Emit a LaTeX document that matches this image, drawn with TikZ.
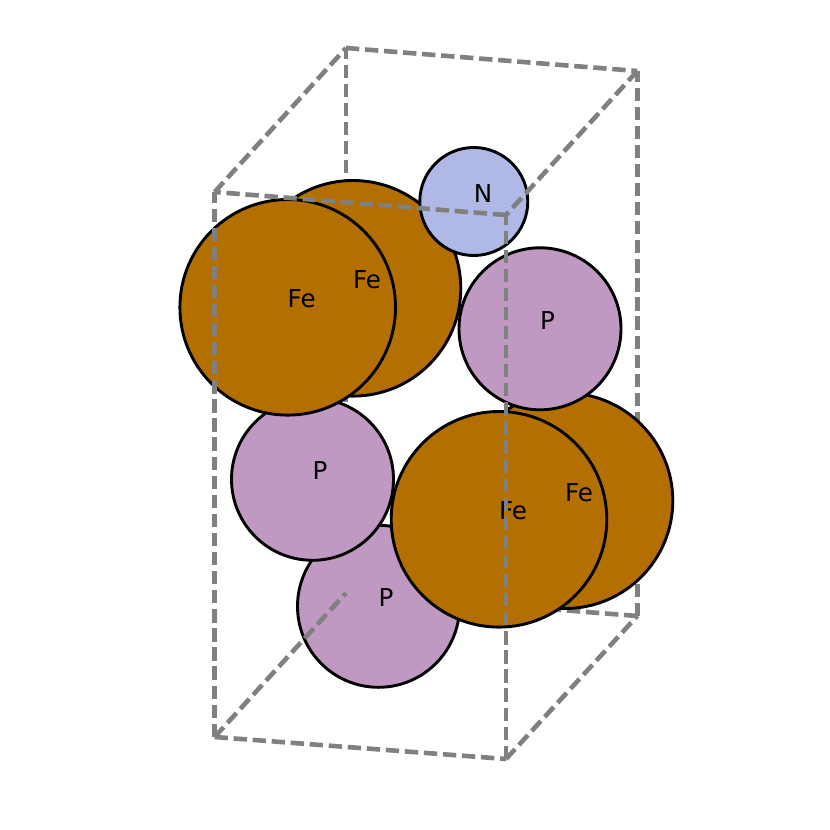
\documentclass[tikz,border=0pt]{standalone}
\usepackage{fontspec}
\setmainfont{DejaVu Sans}
\tikzset{
  atom/.style={circle,draw=black,line width=2.9pt,inner sep=0pt,outer sep=0pt},
  fe/.style={atom,fill=feC,minimum size=215.6pt},
  pp/.style={atom,fill=pC,minimum size=162pt},
  nn/.style={atom,fill=nC,minimum size=108pt},
  lab/.style={anchor=base west,inner sep=0pt,outer sep=0pt,yshift=-0.5pt,font=\fontsize{24.6}{24.6}\selectfont},
  edge/.style={draw=edgeC,line width=4.6pt,dash pattern=on 13.32pt off 5.76pt,line cap=butt}
}
\definecolor{feC}{RGB}{179,112,0}
\definecolor{pC}{RGB}{191,153,194}
\definecolor{nC}{RGB}{176,185,230}
\definecolor{edgeC}{RGB}{128,128,128}
\begin{document}
\begin{tikzpicture}[x=1pt,y=-1pt]
\useasboundingbox (0,0) rectangle (830,830);
\coordinate (A) at (214.6,192);
\coordinate (B) at (506,215);
\coordinate (C) at (637.3,71);
\coordinate (D) at (346,48);
\coordinate (E) at (214.6,737);
\coordinate (F) at (506,759);
\coordinate (G) at (637.3,616);
\coordinate (H) at (346,593);
% hidden edges
\draw[edge] (H) -- (D);
\draw[edge] (G) -- (C);
\draw[edge] (G) -- (H);
% atoms, back to front
\node[pp] (p3) at (378.5,606.3) {};
\node[fe] (fe4) at (565,500.7) {};
\node[pp] (p1) at (540,328.8) {};
\node[fe] (fe2) at (353,288.3) {};
\node[pp] (p2) at (312.5,479.3) {};
\node[nn] (n1) at (473.8,201.5) {};
\node[fe] (fe1) at (287.7,307.3) {};
\node[fe] (fe3) at (499,519.3) {};
% labels
\node[lab] (lfe2) at (353,288.3) {Fe};
\node[lab] (lfe1) at (287.7,307.3) {Fe};
\node[lab] (ln) at (473.8,201.5) {N};
\node[lab] (lp1) at (540,328.8) {P};
\node[lab] (lp2) at (312.5,479.3) {P};
\node[lab] (lp3) at (378.5,606.3) {P};
\node[lab] (lfe4) at (565,500.7) {Fe};
\node[lab] (lfe3) at (499,519.3) {Fe};
% visible edges
\draw[edge] (A) -- (D);
\draw[edge] (D) -- (C);
\draw[edge] (B) -- (A);
\draw[edge] (C) -- (B);
\draw[edge] (E) -- (A);
\draw[edge] (F) -- (B);
\draw[edge] (E) -- (F);
\draw[edge] (F) -- (G);
\draw[edge] (E) -- (H);
\end{tikzpicture}
\end{document}
